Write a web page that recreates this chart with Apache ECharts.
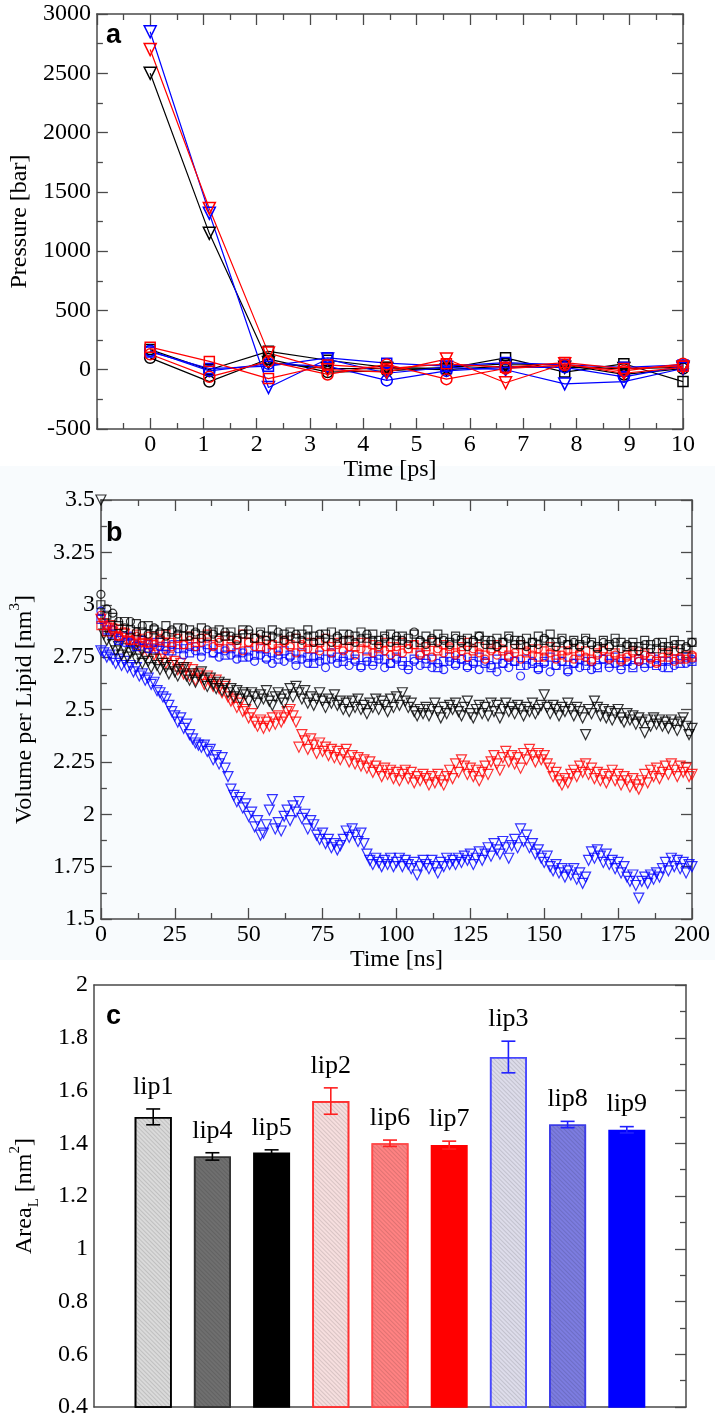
<!DOCTYPE html>
<html>
<head>
<meta charset="utf-8">
<script src="https://cdn.jsdelivr.net/npm/echarts@6/dist/echarts.min.js"></script>
<style>
html,body{margin:0;padding:0;background:#ffffff;}
#chart{width:715px;height:1423px;}
</style>
</head>
<body>
<div id="chart"></div>
<script>
// ---------------- Panel a: pressure vs time [ps] ----------------
const timesA = [0, 1.11, 2.22, 3.33, 4.44, 5.56, 6.67, 7.78, 8.89, 10];
const blackTriA = [2500, 1150, 60, 10, 10, 0, 30, 20, 10, 20];
const blackSqA  = [170, 0, 155, 80, 20, 10, 100, -20, 50, -100];
const blackCiA  = [100, -100, 90, -20, -10, 20, 50, 40, -40, 10];
const blueTriA  = [2850, 1320, -150, 90, -30, 20, 0, -120, -100, 10];
const blueSqA   = [150, 10, 30, 100, 55, 30, 60, 40, 20, 40];
const blueCiA   = [160, -10, 50, 30, -90, -10, 20, 20, -60, 30];
const redTriA   = [2700, 1360, 140, 0, -20, 90, -110, 50, -30, 20];
const redSqA    = [190, 70, -75, 40, 10, 50, 20, 60, 10, 30];
const redCiA    = [130, -60, 70, -40, 45, -80, 10, 40, -10, 50];

// ---------------- Panel b: volume per lipid vs time [ns] ----------------
// triangles sampled every 1 ns
const timesB1 = [
  0, 1, 2, 3, 4, 5, 6, 7, 8, 9,
  10, 11, 12, 13, 14, 15, 16, 17, 18, 19,
  20, 21, 22, 23, 24, 25, 26, 27, 28, 29,
  30, 31, 32, 33, 34, 35, 36, 37, 38, 39,
  40, 41, 42, 43, 44, 45, 46, 47, 48, 49,
  50, 51, 52, 53, 54, 55, 56, 57, 58, 59,
  60, 61, 62, 63, 64, 65, 66, 67, 68, 69,
  70, 71, 72, 73, 74, 75, 76, 77, 78, 79,
  80, 81, 82, 83, 84, 85, 86, 87, 88, 89,
  90, 91, 92, 93, 94, 95, 96, 97, 98, 99,
  100, 101, 102, 103, 104, 105, 106, 107, 108, 109,
  110, 111, 112, 113, 114, 115, 116, 117, 118, 119,
  120, 121, 122, 123, 124, 125, 126, 127, 128, 129,
  130, 131, 132, 133, 134, 135, 136, 137, 138, 139,
  140, 141, 142, 143, 144, 145, 146, 147, 148, 149,
  150, 151, 152, 153, 154, 155, 156, 157, 158, 159,
  160, 161, 162, 163, 164, 165, 166, 167, 168, 169,
  170, 171, 172, 173, 174, 175, 176, 177, 178, 179,
  180, 181, 182, 183, 184, 185, 186, 187, 188, 189,
  190, 191, 192, 193, 194, 195, 196, 197, 198, 199,
  200];
const blackTriB = [
  3.50, 2.86, 2.83, 2.85, 2.81, 2.78, 2.80, 2.76, 2.79, 2.75,
  2.77, 2.78, 2.74, 2.76, 2.72, 2.75, 2.73, 2.70, 2.74, 2.71,
  2.69, 2.72, 2.70, 2.67, 2.71, 2.68, 2.66, 2.69, 2.70, 2.66,
  2.64, 2.67, 2.63, 2.66, 2.68, 2.64, 2.61, 2.65, 2.62, 2.60,
  2.63, 2.59, 2.62, 2.58, 2.60, 2.56, 2.59, 2.55, 2.58, 2.57,
  2.54, 2.58, 2.56, 2.53, 2.57, 2.55, 2.59, 2.54, 2.52, 2.56,
  2.58, 2.55, 2.53, 2.57, 2.60, 2.56, 2.61, 2.58, 2.55, 2.59,
  2.53, 2.56, 2.52, 2.55, 2.58, 2.54, 2.51, 2.55, 2.53, 2.57,
  2.52, 2.54, 2.50, 2.53, 2.49, 2.54, 2.51, 2.55, 2.50, 2.52,
  2.48, 2.53, 2.51, 2.55, 2.50, 2.54, 2.52, 2.49, 2.55, 2.51,
  2.56, 2.52, 2.58, 2.54, 2.51, 2.53, 2.49, 2.47, 2.50, 2.48,
  2.51, 2.47, 2.50, 2.53, 2.49, 2.46, 2.51, 2.48, 2.52, 2.50,
  2.53, 2.49, 2.47, 2.51, 2.54, 2.48, 2.46, 2.50, 2.52, 2.48,
  2.51, 2.47, 2.53, 2.49, 2.52, 2.46, 2.50, 2.53, 2.49, 2.51,
  2.48, 2.52, 2.50, 2.47, 2.51, 2.49, 2.53, 2.48, 2.50, 2.52,
  2.57, 2.51, 2.48, 2.52, 2.50, 2.47, 2.51, 2.49, 2.53, 2.50,
  2.47, 2.51, 2.49, 2.46, 2.38, 2.50, 2.48, 2.54, 2.51, 2.47,
  2.50, 2.46, 2.49, 2.45, 2.48, 2.50, 2.46, 2.44, 2.48, 2.45,
  2.47, 2.43, 2.46, 2.44, 2.39, 2.45, 2.42, 2.46, 2.43, 2.45,
  2.42, 2.44, 2.41, 2.45, 2.43, 2.40, 2.44, 2.46, 2.42, 2.38,
  2.41];
const redTriB = [
  2.93, 2.91, 2.89, 2.90, 2.87, 2.86, 2.88, 2.84, 2.86, 2.82,
  2.84, 2.81, 2.83, 2.80, 2.78, 2.81, 2.77, 2.79, 2.76, 2.78,
  2.74, 2.76, 2.72, 2.75, 2.71, 2.73, 2.69, 2.72, 2.67, 2.70,
  2.66, 2.69, 2.64, 2.67, 2.65, 2.62, 2.66, 2.63, 2.61, 2.64,
  2.60, 2.58, 2.61, 2.56, 2.54, 2.55, 2.51, 2.53, 2.49, 2.50,
  2.46, 2.48, 2.44, 2.42, 2.45, 2.41, 2.44, 2.42, 2.46, 2.43,
  2.47, 2.44, 2.46, 2.49, 2.50, 2.47, 2.44, 2.32, 2.38, 2.35,
  2.31, 2.36, 2.33, 2.29, 2.34, 2.30, 2.32, 2.28, 2.31, 2.27,
  2.30, 2.26, 2.29, 2.31, 2.25, 2.28, 2.24, 2.27, 2.23, 2.26,
  2.22, 2.25, 2.20, 2.23, 2.21, 2.18, 2.22, 2.19, 2.21, 2.17,
  2.20, 2.16, 2.19, 2.21, 2.17, 2.20, 2.15, 2.18, 2.16, 2.19,
  2.17, 2.14, 2.18, 2.15, 2.19, 2.16, 2.14, 2.18, 2.21, 2.17,
  2.24, 2.20, 2.26, 2.23, 2.19, 2.22, 2.18, 2.21, 2.16, 2.20,
  2.23, 2.19, 2.25, 2.28, 2.24, 2.21, 2.27, 2.30, 2.25, 2.28,
  2.24, 2.27, 2.22, 2.29, 2.26, 2.31, 2.28, 2.25, 2.29, 2.26,
  2.28, 2.24, 2.22, 2.18, 2.20, 2.16, 2.14, 2.17, 2.15, 2.19,
  2.21, 2.18, 2.23, 2.20, 2.24, 2.19, 2.22, 2.17, 2.20, 2.16,
  2.19, 2.15, 2.18, 2.21, 2.16, 2.19, 2.14, 2.18, 2.16, 2.13,
  2.17, 2.14, 2.12, 2.16, 2.19, 2.15, 2.21, 2.18, 2.22, 2.17,
  2.20, 2.23, 2.19, 2.24, 2.21, 2.18, 2.23, 2.20, 2.22, 2.18,
  2.19];
const blueTriB = [
  2.78, 2.77, 2.75, 2.76, 2.74, 2.72, 2.74, 2.71, 2.73, 2.70,
  2.71, 2.68, 2.70, 2.66, 2.67, 2.64, 2.65, 2.62, 2.63, 2.59,
  2.58, 2.56, 2.55, 2.52, 2.49, 2.47, 2.44, 2.46, 2.41, 2.43,
  2.38, 2.36, 2.34, 2.33, 2.32, 2.33, 2.30, 2.31, 2.26, 2.28,
  2.24, 2.27, 2.22, 2.18, 2.12, 2.09, 2.06, 2.08, 2.03, 2.05,
  1.99, 2.01, 1.94, 1.97, 1.90, 1.91, 1.95, 2.02, 2.07, 1.93,
  1.96, 1.92, 1.99, 2.02, 1.97, 2.04, 2.01, 2.06, 1.98, 2.00,
  1.93, 1.97, 1.95, 1.90, 1.88, 1.91, 1.86, 1.88, 1.84, 1.86,
  1.83, 1.85, 1.88, 1.92, 1.89, 1.93, 1.90, 1.87, 1.91, 1.86,
  1.81, 1.78, 1.76, 1.79, 1.77, 1.75, 1.78, 1.76, 1.79, 1.75,
  1.77, 1.79, 1.75, 1.78, 1.76, 1.74, 1.77, 1.71, 1.75, 1.78,
  1.76, 1.74, 1.78, 1.75, 1.72, 1.77, 1.75, 1.79, 1.76, 1.78,
  1.76, 1.79, 1.77, 1.80, 1.78, 1.81, 1.76, 1.79, 1.82, 1.78,
  1.81, 1.84, 1.80, 1.86, 1.83, 1.81, 1.87, 1.84, 1.79, 1.85,
  1.88, 1.84, 1.93, 1.87, 1.90, 1.84, 1.86, 1.81, 1.83, 1.79,
  1.77, 1.80, 1.75, 1.73, 1.76, 1.72, 1.74, 1.70, 1.73, 1.71,
  1.74, 1.69, 1.72, 1.67, 1.70, 1.78, 1.82, 1.79, 1.83, 1.80,
  1.77, 1.81, 1.76, 1.78, 1.74, 1.77, 1.72, 1.75, 1.70, 1.68,
  1.71, 1.66, 1.60, 1.68, 1.70, 1.67, 1.71, 1.69, 1.72, 1.70,
  1.74, 1.77, 1.73, 1.79, 1.75, 1.78, 1.74, 1.77, 1.72, 1.76,
  1.75];
// squares and circles sampled every 2 ns
const timesB2 = [
  0, 2, 4, 6, 8, 10, 12, 14, 16, 18,
  20, 22, 24, 26, 28, 30, 32, 34, 36, 38,
  40, 42, 44, 46, 48, 50, 52, 54, 56, 58,
  60, 62, 64, 66, 68, 70, 72, 74, 76, 78,
  80, 82, 84, 86, 88, 90, 92, 94, 96, 98,
  100, 102, 104, 106, 108, 110, 112, 114, 116, 118,
  120, 122, 124, 126, 128, 130, 132, 134, 136, 138,
  140, 142, 144, 146, 148, 150, 152, 154, 156, 158,
  160, 162, 164, 166, 168, 170, 172, 174, 176, 178,
  180, 182, 184, 186, 188, 190, 192, 194, 196, 198,
  200];
const blackSqB = [
  3.00, 2.95, 2.94, 2.90, 2.92, 2.88, 2.91, 2.87, 2.90, 2.88,
  2.86, 2.90, 2.87, 2.89, 2.85, 2.88, 2.86, 2.89, 2.85, 2.87,
  2.88, 2.85, 2.87, 2.84, 2.88, 2.86, 2.84, 2.87, 2.85, 2.88,
  2.84, 2.86, 2.87, 2.84, 2.86, 2.88, 2.85, 2.83, 2.86, 2.87,
  2.84, 2.86, 2.83, 2.85, 2.87, 2.84, 2.86, 2.83, 2.85, 2.86,
  2.83, 2.85, 2.84, 2.86, 2.82, 2.85, 2.83, 2.86, 2.84, 2.82,
  2.85, 2.83, 2.84, 2.82, 2.85, 2.83, 2.81, 2.84, 2.82, 2.85,
  2.83, 2.81, 2.84, 2.82, 2.85, 2.83, 2.86, 2.82, 2.84, 2.81,
  2.83, 2.81, 2.84, 2.82, 2.80, 2.83, 2.81, 2.84, 2.82, 2.80,
  2.82, 2.80, 2.83, 2.81, 2.79, 2.82, 2.80, 2.83, 2.81, 2.79,
  2.82];
const blackCiB = [
  3.05, 2.98, 2.96, 2.92, 2.89, 2.92, 2.87, 2.90, 2.86, 2.89,
  2.87, 2.85, 2.88, 2.86, 2.89, 2.85, 2.87, 2.84, 2.88, 2.86,
  2.84, 2.87, 2.85, 2.83, 2.86, 2.88, 2.84, 2.86, 2.83, 2.85,
  2.87, 2.83, 2.85, 2.86, 2.83, 2.85, 2.82, 2.86, 2.84, 2.82,
  2.85, 2.83, 2.86, 2.82, 2.84, 2.86, 2.83, 2.81, 2.84, 2.82,
  2.85, 2.83, 2.81, 2.87, 2.83, 2.81, 2.84, 2.82, 2.83, 2.81,
  2.84, 2.82, 2.80, 2.83, 2.85, 2.81, 2.83, 2.80, 2.82, 2.84,
  2.81, 2.83, 2.80, 2.82, 2.81, 2.84, 2.82, 2.80, 2.83, 2.81,
  2.82, 2.80, 2.83, 2.81, 2.79, 2.82, 2.80, 2.82, 2.79, 2.81,
  2.80, 2.78, 2.81, 2.79, 2.82, 2.80, 2.78, 2.81, 2.79, 2.80,
  2.82];
const redSqB = [
  2.90, 2.87, 2.89, 2.85, 2.87, 2.83, 2.86, 2.84, 2.82, 2.85,
  2.83, 2.86, 2.82, 2.84, 2.81, 2.85, 2.82, 2.84, 2.86, 2.81,
  2.83, 2.85, 2.80, 2.83, 2.86, 2.82, 2.84, 2.80, 2.83, 2.81,
  2.79, 2.83, 2.81, 2.84, 2.80, 2.82, 2.79, 2.82, 2.84, 2.80,
  2.82, 2.79, 2.83, 2.80, 2.82, 2.78, 2.81, 2.79, 2.82, 2.80,
  2.78, 2.82, 2.79, 2.81, 2.77, 2.80, 2.82, 2.78, 2.81, 2.79,
  2.77, 2.80, 2.82, 2.78, 2.80, 2.76, 2.79, 2.81, 2.78, 2.76,
  2.79, 2.81, 2.77, 2.79, 2.75, 2.78, 2.80, 2.76, 2.78, 2.75,
  2.79, 2.76, 2.78, 2.74, 2.77, 2.79, 2.75, 2.77, 2.74, 2.76,
  2.78, 2.74, 2.77, 2.75, 2.73, 2.77, 2.75, 2.78, 2.74, 2.76,
  2.75];
const redCiB = [
  2.95, 2.90, 2.88, 2.85, 2.87, 2.83, 2.85, 2.82, 2.85, 2.81,
  2.84, 2.82, 2.80, 2.84, 2.81, 2.83, 2.80, 2.82, 2.84, 2.80,
  2.82, 2.79, 2.83, 2.81, 2.78, 2.82, 2.80, 2.83, 2.79, 2.81,
  2.78, 2.82, 2.80, 2.77, 2.81, 2.79, 2.82, 2.78, 2.80, 2.77,
  2.81, 2.78, 2.80, 2.76, 2.79, 2.82, 2.77, 2.80, 2.78, 2.76,
  2.80, 2.77, 2.79, 2.81, 2.76, 2.78, 2.75, 2.79, 2.77, 2.80,
  2.76, 2.78, 2.75, 2.79, 2.77, 2.74, 2.78, 2.76, 2.79, 2.75,
  2.77, 2.74, 2.78, 2.76, 2.79, 2.75, 2.77, 2.74, 2.76, 2.78,
  2.74, 2.77, 2.75, 2.73, 2.76, 2.78, 2.74, 2.76, 2.73, 2.75,
  2.77, 2.73, 2.76, 2.74, 2.72, 2.75, 2.77, 2.73, 2.75, 2.74,
  2.76];
const blueSqB = [
  2.93, 2.88, 2.86, 2.83, 2.85, 2.82, 2.80, 2.83, 2.81, 2.79,
  2.82, 2.80, 2.78, 2.81, 2.79, 2.77, 2.80, 2.78, 2.81, 2.77,
  2.79, 2.76, 2.79, 2.77, 2.75, 2.78, 2.76, 2.79, 2.75, 2.77,
  2.74, 2.78, 2.76, 2.74, 2.77, 2.75, 2.72, 2.76, 2.74, 2.77,
  2.75, 2.73, 2.76, 2.74, 2.71, 2.75, 2.73, 2.76, 2.74, 2.72,
  2.75, 2.73, 2.71, 2.74, 2.76, 2.72, 2.74, 2.70, 2.73, 2.75,
  2.72, 2.74, 2.71, 2.73, 2.75, 2.72, 2.70, 2.74, 2.72, 2.75,
  2.73, 2.71, 2.74, 2.72, 2.70, 2.73, 2.75, 2.71, 2.73, 2.69,
  2.72, 2.74, 2.71, 2.73, 2.70, 2.74, 2.72, 2.75, 2.71, 2.73,
  2.70, 2.74, 2.72, 2.75, 2.71, 2.73, 2.70, 2.74, 2.72, 2.75,
  2.73];
const blueCiB = [
  2.97, 2.90, 2.88, 2.84, 2.82, 2.85, 2.81, 2.83, 2.79, 2.82,
  2.80, 2.78, 2.81, 2.79, 2.76, 2.80, 2.78, 2.75, 2.79, 2.77,
  2.75, 2.78, 2.76, 2.74, 2.77, 2.75, 2.73, 2.76, 2.74, 2.72,
  2.76, 2.73, 2.75, 2.71, 2.74, 2.72, 2.75, 2.73, 2.70, 2.74,
  2.72, 2.75, 2.71, 2.73, 2.70, 2.73, 2.71, 2.74, 2.70, 2.72,
  2.74, 2.71, 2.69, 2.73, 2.71, 2.74, 2.70, 2.72, 2.69, 2.73,
  2.71, 2.74, 2.70, 2.72, 2.69, 2.73, 2.71, 2.68, 2.72, 2.70,
  2.73, 2.66, 2.71, 2.73, 2.69, 2.72, 2.68, 2.71, 2.73, 2.68,
  2.72, 2.70, 2.73, 2.69, 2.71, 2.74, 2.70, 2.72, 2.69, 2.73,
  2.71, 2.73, 2.70, 2.72, 2.74, 2.70, 2.73, 2.71, 2.74, 2.72,
  2.74];

// ---------------- Panel c: area per lipid ----------------
const lipLabels = ['lip1', 'lip4', 'lip5', 'lip2', 'lip6', 'lip7', 'lip3', 'lip8', 'lip9'];
const lipPos    = [1, 2, 3, 4, 5, 6, 7, 8, 9];
const lipArea   = [1.50, 1.35, 1.365, 1.56, 1.40, 1.393, 1.727, 1.471, 1.451];
const lipErr    = [0.03, 0.014, 0.01, 0.05, 0.012, 0.015, 0.06, 0.012, 0.012];

// ---------------- styles ----------------
const BLACK = '#000000', RED = '#ff0000', BLUE = '#0000ff';
const AXC = '#4a4a4a';
const SERIF = '"Liberation Serif", "DejaVu Serif", serif';
const SANS = '"Liberation Sans", Arial, sans-serif';
const barFill   = ['#dadada', '#6f6f6f', '#000000', '#f6dede', '#ff8282', '#ff0000', '#dddcea', '#7c7ce0', '#0000ff'];
const barBorder = ['#000000', '#333333', '#000000', '#ff3030', '#ff4a4a', '#ff0000', '#4848ff', '#3c3ce6', '#0000ff'];
const barHatch  = [true, true, false, true, true, false, true, true, false];
const errColor  = ['#000000', '#000000', '#000000', '#ff2020', '#ff2020', '#ff2020', '#2020ff', '#2020ff', '#2020ff'];

function pairs(xs, ys) { return xs.map((x, i) => [x, ys[i]]); }
function mkAxis(base, extra) { return Object.assign({}, base, extra); }

const tickBase = {
  axisLine: { show: true, onZero: false, lineStyle: { color: AXC, width: 1.5 } },
  axisTick: { show: true, inside: true, length: 11, lineStyle: { color: AXC, width: 1.3 } },
  minorTick: { show: true, splitNumber: 2, length: 6, lineStyle: { color: AXC, width: 1.3 } },
  splitLine: { show: false },
  minorSplitLine: { show: false },
  axisLabel: { color: '#000', fontFamily: SERIF, fontSize: 24, formatter: v => String(v) },
  nameTextStyle: { color: '#000', fontFamily: SERIF, fontSize: 24 }
};

const xAxes = [
  mkAxis(tickBase, { gridIndex: 0, type: 'value', position: 'bottom', min: -1, max: 10, interval: 1,
    axisLabel: Object.assign({}, tickBase.axisLabel, { margin: 4, formatter: v => (v < 0 ? '' : String(v)) }),
    name: 'Time [ps]', nameLocation: 'middle', nameGap: 28 }),
  mkAxis(tickBase, { gridIndex: 0, type: 'value', position: 'top', min: -1, max: 10, interval: 1,
    axisLabel: { show: false } }),
  mkAxis(tickBase, { gridIndex: 1, type: 'value', position: 'bottom', min: 0, max: 200, interval: 25,
    axisLabel: Object.assign({}, tickBase.axisLabel, { margin: 4 }),
    name: 'Time [ns]', nameLocation: 'middle', nameGap: 25 }),
  mkAxis(tickBase, { gridIndex: 1, type: 'value', position: 'top', min: 0, max: 200, interval: 25,
    axisLabel: { show: false } }),
  mkAxis(tickBase, { gridIndex: 2, type: 'value', position: 'bottom', min: 0, max: 10, interval: 1,
    axisTick: { show: false }, minorTick: { show: false }, axisLabel: { show: false } }),
  mkAxis(tickBase, { gridIndex: 2, type: 'value', position: 'top', min: 0, max: 10, interval: 1,
    axisTick: { show: false }, minorTick: { show: false }, axisLabel: { show: false } })
];

const yAxes = [
  mkAxis(tickBase, { gridIndex: 0, type: 'value', position: 'left', min: -500, max: 3000, interval: 500,
    axisLabel: Object.assign({}, tickBase.axisLabel, { margin: 6 }),
    name: 'Pressure [bar]', nameLocation: 'middle', nameGap: 60 }),
  mkAxis(tickBase, { gridIndex: 0, type: 'value', position: 'right', min: -500, max: 3000, interval: 500,
    axisLabel: { show: false } }),
  mkAxis(tickBase, { gridIndex: 1, type: 'value', position: 'left', min: 1.5, max: 3.5, interval: 0.25,
    axisLabel: Object.assign({}, tickBase.axisLabel, { margin: 6 }),
    name: 'Volume per Lipid [nm{sup|3}]', nameLocation: 'middle', nameGap: 58,
    nameTextStyle: { color: '#000', fontFamily: SERIF, fontSize: 24, lineHeight: 34,
      rich: { sup: { fontFamily: SERIF, fontSize: 15, verticalAlign: 'top', lineHeight: 34 } } } }),
  mkAxis(tickBase, { gridIndex: 1, type: 'value', position: 'right', min: 1.5, max: 3.5, interval: 0.25,
    axisLabel: { show: false } }),
  mkAxis(tickBase, { gridIndex: 2, type: 'value', position: 'left', min: 0.4, max: 2, interval: 0.2,
    axisTick: { show: false }, minorTick: { show: false },
    axisLabel: Object.assign({}, tickBase.axisLabel, { margin: 6 }),
    name: 'Area{sub|L} [nm{sup|2}]', nameLocation: 'middle', nameGap: 52,
    nameTextStyle: { color: '#000', fontFamily: SERIF, fontSize: 24, lineHeight: 34,
      rich: {
        sup: { fontFamily: SERIF, fontSize: 15, verticalAlign: 'top', lineHeight: 34 },
        sub: { fontFamily: SERIF, fontSize: 15, verticalAlign: 'bottom', lineHeight: 34 }
      } } }),
  mkAxis(tickBase, { gridIndex: 2, type: 'value', position: 'right', min: 0.4, max: 2, interval: 0.2,
    axisLabel: { show: false } })
];

function lineSeries(name, ys, color, symbol, size, rotate) {
  return {
    name, type: 'line', xAxisIndex: 0, yAxisIndex: 0,
    data: pairs(timesA, ys),
    symbol, symbolSize: size, symbolRotate: rotate || 0, showAllSymbol: true,
    itemStyle: { color: 'transparent', borderColor: color, borderWidth: 1.5 },
    lineStyle: { color: color, width: 1.2 },
    emphasis: { disabled: true }, silent: true, animation: false
  };
}

function scatterSeries(name, xs, ys, color, symbol, size, rotate) {
  return {
    name, type: 'scatter', xAxisIndex: 2, yAxisIndex: 2,
    data: pairs(xs, ys),
    symbol, symbolSize: size, symbolRotate: rotate || 0,
    itemStyle: { color: 'transparent', borderColor: color, borderWidth: 1.2 },
    emphasis: { disabled: true }, silent: true, animation: false
  };
}

const hatchDecal = {
  symbol: 'rect', symbolSize: 1, dashArrayX: [1, 0], dashArrayY: [1, 2],
  rotation: Math.PI / 4, color: 'rgba(0,0,0,0.12)'
};

const barSeries = {
  type: 'bar', xAxisIndex: 4, yAxisIndex: 4, barWidth: 37,
  data: lipPos.map((x, i) => ({
    value: [x, lipArea[i]],
    itemStyle: Object.assign({ color: barFill[i], borderColor: barBorder[i], borderWidth: 1.6 },
      barHatch[i] ? { decal: hatchDecal } : {})
  })),
  emphasis: { disabled: true }, silent: true, animation: false
};

const errSeries = {
  type: 'custom', xAxisIndex: 4, yAxisIndex: 4,
  data: lipPos.map((x, i) => [x, lipArea[i] - lipErr[i], lipArea[i] + lipErr[i], i]),
  renderItem: function (params, api) {
    const x = api.value(0), lo = api.value(1), hi = api.value(2), idx = api.value(3);
    const pLo = api.coord([x, lo]), pHi = api.coord([x, hi]);
    const cap = 7;
    const st = { stroke: errColor[idx], lineWidth: 1.6 };
    return {
      type: 'group',
      children: [
        { type: 'line', shape: { x1: pLo[0], y1: pLo[1], x2: pHi[0], y2: pHi[1] }, style: st },
        { type: 'line', shape: { x1: pLo[0] - cap, y1: pLo[1], x2: pLo[0] + cap, y2: pLo[1] }, style: st },
        { type: 'line', shape: { x1: pHi[0] - cap, y1: pHi[1], x2: pHi[0] + cap, y2: pHi[1] }, style: st },
        { type: 'text', x: pHi[0], y: pHi[1] - 9,
          style: { text: lipLabels[idx], fill: '#000', font: '26px ' + SERIF, align: 'center', verticalAlign: 'bottom' } }
      ]
    };
  },
  z: 5, silent: true, animation: false
};

const option = {
  backgroundColor: '#ffffff',
  animation: false,
  grid: [
    { left: 93, top: 14, width: 590, height: 415 },
    { left: 92, top: 500, width: 600, height: 419 },
    { left: 88, top: 985, width: 598, height: 422 }
  ],
  xAxis: xAxes,
  yAxis: yAxes,
  graphic: [
    { type: 'rect', left: 0, top: 466, shape: { width: 715, height: 494 }, style: { fill: '#f8fbfd' }, z: -10, silent: true },
    { type: 'text', left: 106, top: 22, style: { text: 'a', font: 'bold 27px ' + SANS, fill: '#000' } },
    { type: 'text', left: 106, top: 520, style: { text: 'b', font: 'bold 27px ' + SANS, fill: '#000' } },
    { type: 'text', left: 106, top: 1003, style: { text: 'c', font: 'bold 27px ' + SANS, fill: '#000' } }
  ],
  series: [
    lineSeries('black tri', blackTriA, BLACK, 'triangle', 12, 180),
    lineSeries('black sq', blackSqA, BLACK, 'rect', 10),
    lineSeries('black ci', blackCiA, BLACK, 'circle', 11),
    lineSeries('blue tri', blueTriA, BLUE, 'triangle', 12, 180),
    lineSeries('blue sq', blueSqA, BLUE, 'rect', 10),
    lineSeries('blue ci', blueCiA, BLUE, 'circle', 11),
    lineSeries('red tri', redTriA, RED, 'triangle', 12, 180),
    lineSeries('red sq', redSqA, RED, 'rect', 10),
    lineSeries('red ci', redCiA, RED, 'circle', 11),

    scatterSeries('blue tri b', timesB1, blueTriB, BLUE, 'triangle', 10, 180),
    scatterSeries('red tri b', timesB1, redTriB, RED, 'triangle', 10, 180),
    scatterSeries('black tri b', timesB1, blackTriB, BLACK, 'triangle', 10, 180),
    scatterSeries('blue sq b', timesB2, blueSqB, BLUE, 'rect', 8),
    scatterSeries('blue ci b', timesB2, blueCiB, BLUE, 'circle', 8),
    scatterSeries('red sq b', timesB2, redSqB, RED, 'rect', 8),
    scatterSeries('red ci b', timesB2, redCiB, RED, 'circle', 8),
    scatterSeries('black sq b', timesB2, blackSqB, BLACK, 'rect', 8),
    scatterSeries('black ci b', timesB2, blackCiB, BLACK, 'circle', 8),

    barSeries,
    errSeries
  ]
};

const chart = echarts.init(document.getElementById('chart'), null, { renderer: 'canvas', width: 715, height: 1423 });
chart.setOption(option);
</script>
</body>
</html>
